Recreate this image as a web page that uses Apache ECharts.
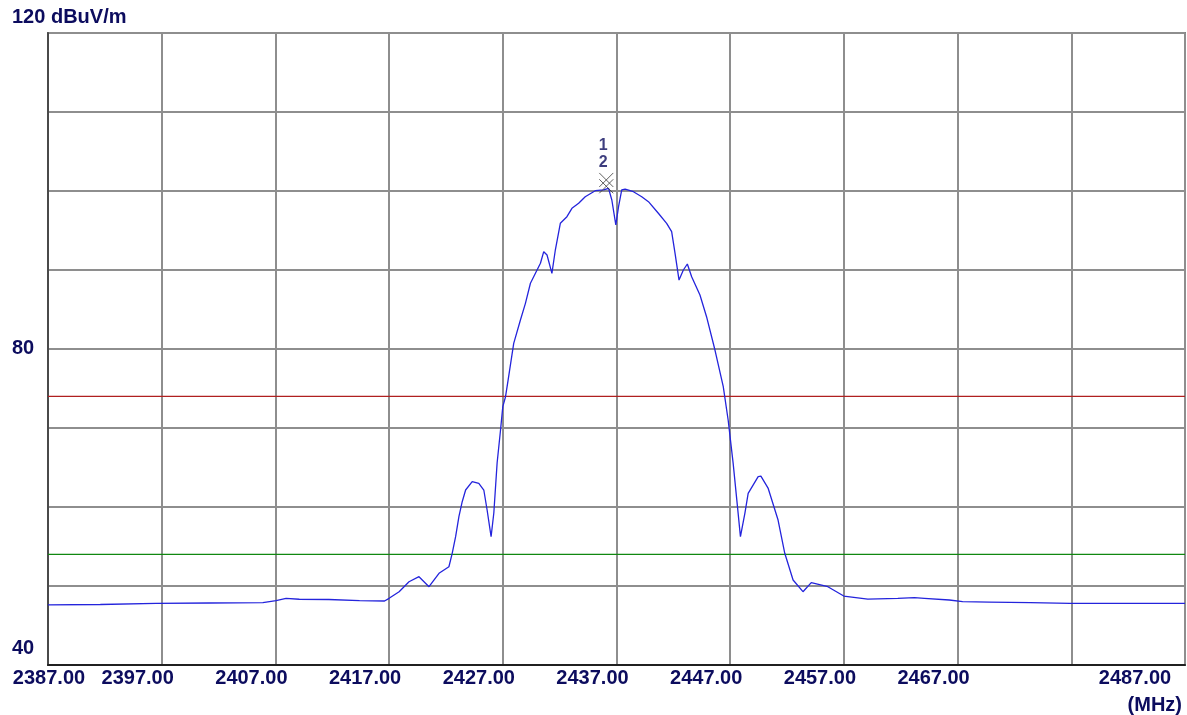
<!DOCTYPE html>
<html>
<head>
<meta charset="utf-8">
<script src="https://cdn.jsdelivr.net/npm/echarts@6/dist/echarts.min.js"></script>
<style>
html,body{margin:0;padding:0;background:#fff;}
#chart{width:1187px;height:715px;}
</style>
</head>
<body>
<div id="chart"></div>
<script>
// ---- data ----
const freqStart = 2387;
const freqMHz = [
  2387.0, 2391.6, 2396.5, 2401.2, 2405.9, 2407.06, 2407.94, 2409.1, 2411.7, 2414.4, 2416.6,
  2417.0, 2417.88, 2418.75, 2419.63, 2420.51, 2421.39, 2422.26, 2422.55, 2422.85, 2423.14,
  2423.43, 2423.73, 2424.31, 2424.89, 2425.33, 2425.62, 2425.97, 2426.21, 2426.5, 2426.8,
  2427.0, 2427.24, 2427.47, 2427.96, 2428.55, 2428.99, 2429.43, 2429.87, 2430.31, 2430.6,
  2430.89, 2431.32, 2431.62, 2432.06, 2432.64, 2433.08, 2433.67, 2434.25, 2435.13, 2435.86,
  2436.3, 2436.59, 2436.94, 2437.18, 2437.46, 2437.76, 2438.49, 2439.22, 2439.81, 2440.68,
  2441.41, 2441.85, 2442.15, 2442.5, 2442.88, 2443.23, 2443.61, 2444.34, 2444.92, 2445.66,
  2446.39, 2446.82, 2447.26, 2447.64, 2447.9, 2448.29, 2448.58, 2449.46, 2449.7, 2450.33,
  2451.21, 2451.8, 2452.53, 2453.4, 2454.13, 2455.59, 2456.99, 2459.1, 2461.74, 2463.2,
  2464.08, 2466.27, 2467.44, 2469.78, 2473.4, 2476.9, 2487.0
];
const levelDbuV = [
  47.6, 47.66, 47.81, 47.85, 47.89, 48.14, 48.44, 48.32, 48.29, 48.16, 48.1,
  48.44, 49.28, 50.54, 51.18, 49.91, 51.61, 52.44, 54.14, 56.24, 58.77,
  60.67, 62.15, 63.2, 63.0, 62.15, 59.62, 56.24, 59.24, 65.57, 69.75,
  72.7, 73.96, 76.08, 80.72, 83.67, 85.78, 88.32, 89.58, 90.85, 92.32,
  91.9, 89.58, 92.53, 95.91, 96.75, 97.81, 98.44, 99.28, 100.04, 100.13,
  100.34, 98.86, 95.7, 98.01, 100.13, 100.25, 99.91, 99.28, 98.65, 97.18,
  95.91, 94.85, 92.11, 88.73, 90.0, 90.76, 89.15, 86.84, 84.09, 79.87,
  75.23, 71.01, 65.53, 60.04, 56.24, 59.2, 61.73, 63.84, 63.9, 62.4,
  58.35, 54.14, 50.76, 49.28, 50.42, 49.91, 48.73, 48.35, 48.44, 48.52,
  48.44, 48.23, 48.01, 47.97, 47.89, 47.81, 47.8
];
const limitRedDb = 74;
const limitGreenDb = 54;
const markerNames = ['1', '2'];
const markerFreqMHz = [2436.1, 2436.1];
const markerLevelDb = [101.4, 100.6];
const xTickLabels = ['2387.00','2397.00','2407.00','2417.00','2427.00','2437.00','2447.00','2457.00','2467.00','','2487.00'];
const yTickLabels = {40: '40', 80: '80', 120: '120 dBuV/m'};
const xUnit = '(MHz)';

// ---- build ----
const navy = '#0c0c5e';
const font = "'Liberation Sans', Arial, sans-serif";
const trace = freqMHz.map((f, i) => [f - freqStart, levelDbuV[i]]);
const span = [0, 100];

const chart = echarts.init(document.getElementById('chart'), null, {renderer: 'canvas'});
chart.setOption({
  animation: false,
  backgroundColor: '#ffffff',
  grid: {left: 48, right: 2, top: 33, bottom: 50, show: true, borderColor: '#808080', borderWidth: 2},
  xAxis: {
    type: 'value', min: span[0], max: span[1], interval: 10,
    axisLine: {show: true, onZero: false, lineStyle: {color: '#202020', width: 2}},
    axisTick: {show: false},
    splitLine: {show: true, lineStyle: {color: '#8e8e8e', width: 2}},
    axisLabel: {
      margin: 3, color: navy, fontFamily: font, fontWeight: 'bold', fontSize: 20,
      formatter: function (v) {
        const idx = Math.round(v / 10);
        const t = xTickLabels[idx] || '';
        if (!t) return '';
        if (idx === 0) return '{f|' + t + '}';
        if (idx === xTickLabels.length - 1) return '{l|' + t + '}';
        return '{m|' + t + '}';
      },
      rich: {
        f: {color: navy, fontFamily: font, fontWeight: 'bold', fontSize: 20, padding: [0, 0, 0, 2]},
        m: {color: navy, fontFamily: font, fontWeight: 'bold', fontSize: 20, padding: [0, 48, 0, 0]},
        l: {color: navy, fontFamily: font, fontWeight: 'bold', fontSize: 20, padding: [0, 100, 0, 0]}
      }
    },
    name: xUnit, nameLocation: 'end', nameGap: -3,
    nameTextStyle: {color: navy, fontFamily: font, fontWeight: 'bold', fontSize: 20, align: 'right', verticalAlign: 'top', padding: [30, 0, 0, 0]}
  },
  yAxis: {
    type: 'value', min: 40, max: 120, interval: 10,
    axisLine: {show: true, lineStyle: {color: '#4a4a4a', width: 2}},
    axisTick: {show: false},
    splitLine: {show: true, lineStyle: {color: '#8e8e8e', width: 2}},
    axisLabel: {
      margin: 36, align: 'left', color: navy, fontFamily: font, fontWeight: 'bold', fontSize: 20,
      formatter: function (v) {
        const t = yTickLabels[v];
        if (!t) return '';
        if (v === 40) return '{b|' + t + '}';
        if (v === 120) return '{t|' + t + '}';
        return '{n|' + t + '}';
      },
      rich: {
        n: {color: navy, fontFamily: font, fontWeight: 'bold', fontSize: 20, padding: [0, 0, 2, 0]},
        b: {color: navy, fontFamily: font, fontWeight: 'bold', fontSize: 20, padding: [0, 0, 34, 0]},
        t: {color: navy, fontFamily: font, fontWeight: 'bold', fontSize: 20, padding: [0, 0, 32, 0]}
      }
    }
  },
  series: [
    {
      type: 'line', name: 'limitRed', symbol: 'none', silent: true,
      data: [[span[0], limitRedDb], [span[1], limitRedDb]],
      lineStyle: {color: '#b02020', width: 1.3}
    },
    {
      type: 'line', name: 'limitGreen', symbol: 'none', silent: true,
      data: [[span[0], limitGreenDb], [span[1], limitGreenDb]],
      lineStyle: {color: '#118811', width: 1.3}
    },
    {
      type: 'line', name: 'trace', symbol: 'none', smooth: false,
      data: trace,
      lineStyle: {color: '#2424dc', width: 1.3}
    },
    {
      type: 'scatter', name: 'markers',
      symbol: 'path://M0 0L10 10M10 0L0 10', symbolSize: 14,
      itemStyle: {color: 'rgba(0,0,0,0)', borderColor: '#3a3a3a', borderWidth: 1},
      data: markerNames.map((n, i) => ({
        name: n, value: [markerFreqMHz[i] - freqStart, markerLevelDb[i]],
        label: {distance: i === 0 ? 19 : 8}
      })),
      label: {
        show: true, position: 'top', offset: [-3, 0], formatter: '{b}',
        color: navy, fontFamily: font, fontWeight: 'bold', fontSize: 16
      },
      z: 5
    }
  ]
});
</script>
</body>
</html>
